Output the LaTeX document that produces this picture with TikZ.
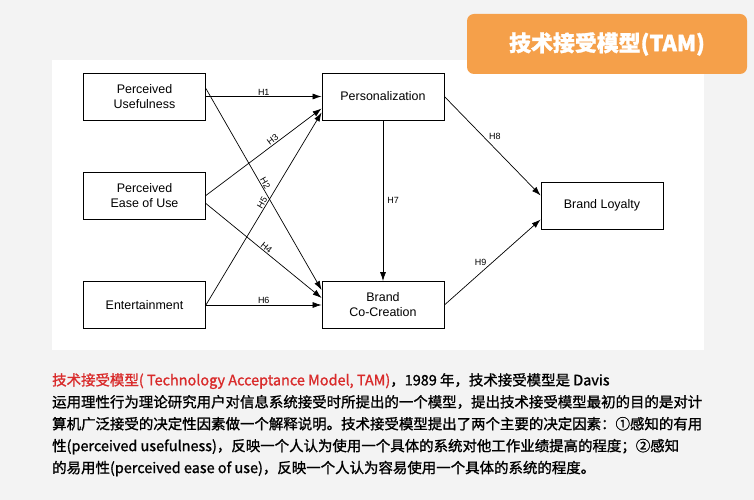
\documentclass[tikz,border=0pt]{standalone}
\usepackage{fontspec}
\setmainfont{Liberation Sans}
\newfontfamily\cjk{Noto Sans CJK SC}[FakeBold=1.2]
\usetikzlibrary{arrows.meta}
\definecolor{tamorange}{HTML}{F5A04A}
\definecolor{tamred}{HTML}{D92B2B}
\definecolor{pagegrey}{HTML}{F3F3F3}
\tikzset{
  box/.style={draw,line width=0.8pt,minimum width=122bp,minimum height=47bp,align=center,font=\fontsize{12.5}{15}\selectfont},
  hyp/.style={font=\fontsize{9}{10}\selectfont,inner sep=1pt},
  link/.style={-{Latex[length=9bp,width=6bp]},line width=0.7pt},
}
\begin{document}
\begin{tikzpicture}[x=1bp,y=-1bp]
\useasboundingbox (0,0) rectangle (754,500);
\fill[pagegrey] (0,0) rectangle (754,500);
\fill[white] (52,60) rectangle (704,350);
%%
\node[fill=tamorange,rounded corners=7bp,minimum width=280bp,minimum height=60bp,text=white,font=\cjk\bfseries\fontsize{22}{26}\selectfont] (title) at (607,44) {技术接受模型(TAM)};
\node[box] (pu) at (144.5,96.5) {Perceived\\Usefulness};
\node[box] (peu) at (144.5,195.5) {Perceived\\Ease of Use};
\node[box] (ent) at (144.5,305) {Entertainment};
\node[box] (pers) at (383,96.5) {Personalization};
\node[box] (bcc) at (383,305) {Brand\\Co-Creation};
\node[box] (bl) at (602,205.5) {Brand Loyalty};
%
\draw[link] (pu.east) -- node[hyp,above] {H1} (pu.east -| pers.west);
\draw[link] ([yshift=8bp]pu.east) -- node[hyp,pos=0.48,sloped,above] {H2} ([yshift=15bp]bcc.west);
\draw[link] (peu.east) -- node[hyp,pos=0.6,sloped,above] {H3} ([yshift=-12bp]pers.west);
\draw[link] ([yshift=-8bp]peu.east) -- node[hyp,pos=0.5,sloped,above] {H4} ([yshift=7bp]bcc.west);
\draw[link] (ent.east) -- node[hyp,pos=0.52,sloped,above] {H5} ([yshift=-16bp]pers.west);
\draw[link] (ent.east) -- node[hyp,above] {H6} (bcc.west);
\draw[link] (pers.south) -- node[hyp,right=3bp] {H7} (bcc.north);
\draw[link] (pers.east) -- node[hyp,pos=0.45,above right] {H8} ([yshift=10bp]bl.west);
\draw[link] (bcc.east) -- node[hyp,pos=0.45,above left] {H9} ([yshift=-14bp]bl.west);
%
\node[anchor=north west,align=left,font=\cjk\fontsize{14.5}{22}\selectfont,inner sep=0pt] (desc) at (52,373)
{\textcolor{tamred}{技术接受模型( Technology Acceptance Model, TAM)}，1989 年，技术接受模型是 Davis\\
运用理性行为理论研究用户对信息系统接受时所提出的一个模型，提出技术接受模型最初的目的是对计\\
算机广泛接受的决定性因素做一个解释说明。技术接受模型提出了两个主要的决定因素：①感知的有用\\
性(perceived usefulness)，反映一个人认为使用一个具体的系统对他工作业绩提高的程度；②感知\\
的易用性(perceived ease of use)，反映一个人认为容易使用一个具体的系统的程度。};
\end{tikzpicture}
\end{document}
